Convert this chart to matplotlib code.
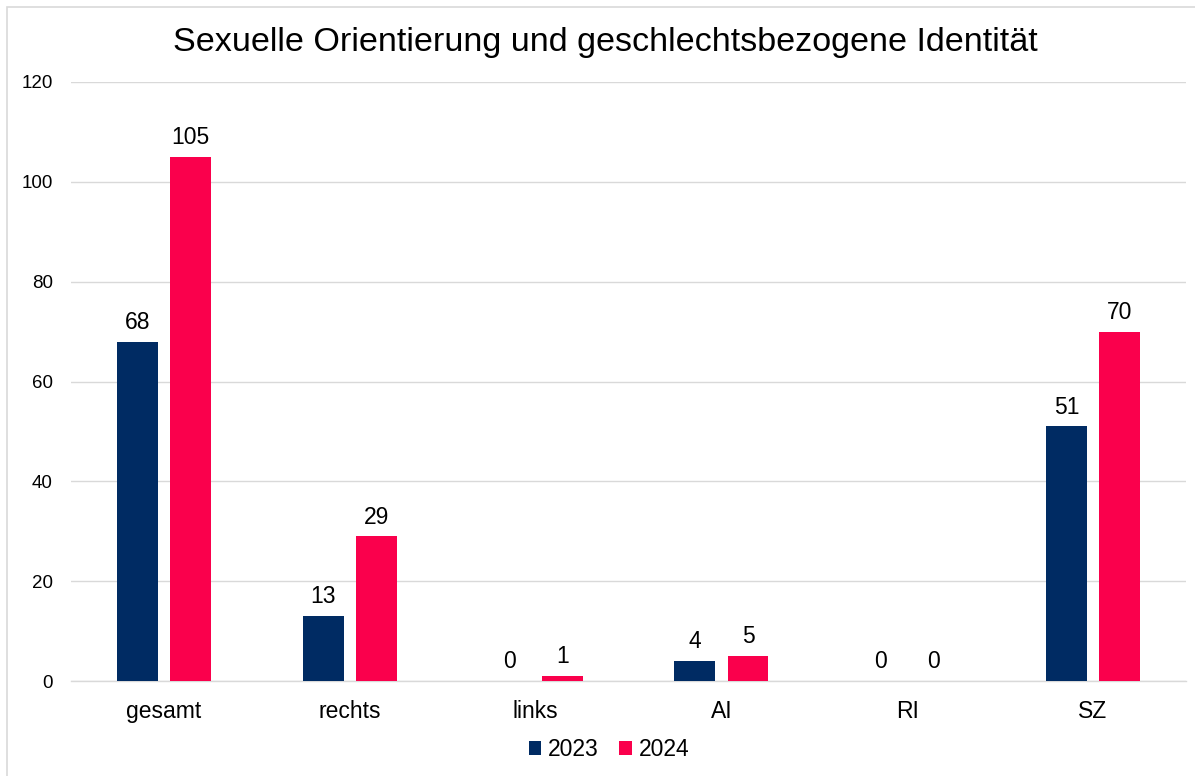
import matplotlib
matplotlib.use("Agg")
import matplotlib.pyplot as plt
from matplotlib.patches import Rectangle
import numpy as np

categories = ["gesamt", "rechts", "links", "AI", "RI", "SZ"]
values_2023 = [68, 13, 0, 4, 0, 51]
values_2024 = [105, 29, 1, 5, 0, 70]
series_names = ["2023", "2024"]
colors = ["#002B63", "#FA004C"]
yticks = [0, 20, 40, 60, 80, 100, 120]

plt.rcParams['font.family'] = ['Liberation Sans', 'DejaVu Sans']

W, H = 1195, 776
fig = plt.figure(figsize=(W/100, H/100), dpi=100)
ax = fig.add_axes([71/W, 1-681/H, (1186-71)/W, (681-82)/H])

x = np.arange(len(categories))
bw = 0.22
off = 0.143
b1 = ax.bar(x - off, values_2023, bw, color=colors[0], label=series_names[0], zorder=3)
b2 = ax.bar(x + off, values_2024, bw, color=colors[1], label=series_names[1], zorder=3)

for bars, vals in ((b1, values_2023), (b2, values_2024)):
    for r, v in zip(bars, vals):
        ax.annotate(str(v), (r.get_x() + r.get_width()/2, v), xytext=(0, 5.5),
                    textcoords='offset points', ha='center', va='bottom',
                    fontsize=16.5, color='#000000')

ax.set_xlim(-0.5, len(categories) - 0.5)
ax.set_ylim(0, 120)
ax.set_yticks(yticks)
ax.set_yticklabels([str(t) for t in yticks], fontsize=13.5)
ax.set_xticks(x)
ax.set_xticklabels(categories, fontsize=16.5)
ax.tick_params(axis='x', length=0, pad=14)
ax.tick_params(axis='y', length=0, pad=13)
ax.grid(axis='y', color='#D9D9D9', linewidth=1, zorder=0)
for s in ['top', 'right', 'left']:
    ax.spines[s].set_visible(False)
ax.spines['bottom'].set_color('#D9D9D9')
ax.spines['bottom'].set_linewidth(1)

fig.text(605/W, 1-42/H, "Sexuelle Orientierung und geschlechtsbezogene Identität",
         ha='center', va='center', fontsize=24.6)

leg = fig.legend(loc='center', bbox_to_anchor=(609/W, 1-750/H), ncol=2, frameon=False,
                 fontsize=16.5, handlelength=0.55, handleheight=0.55, handletextpad=0.3,
                 columnspacing=0.9)

fig.patches.append(Rectangle((7/W, -0.05), 1.2, 1 - 7/H + 0.05, transform=fig.transFigure,
                             fill=False, edgecolor='#D9D9D9', linewidth=1.2))

fig.savefig("out.png", dpi=100)
